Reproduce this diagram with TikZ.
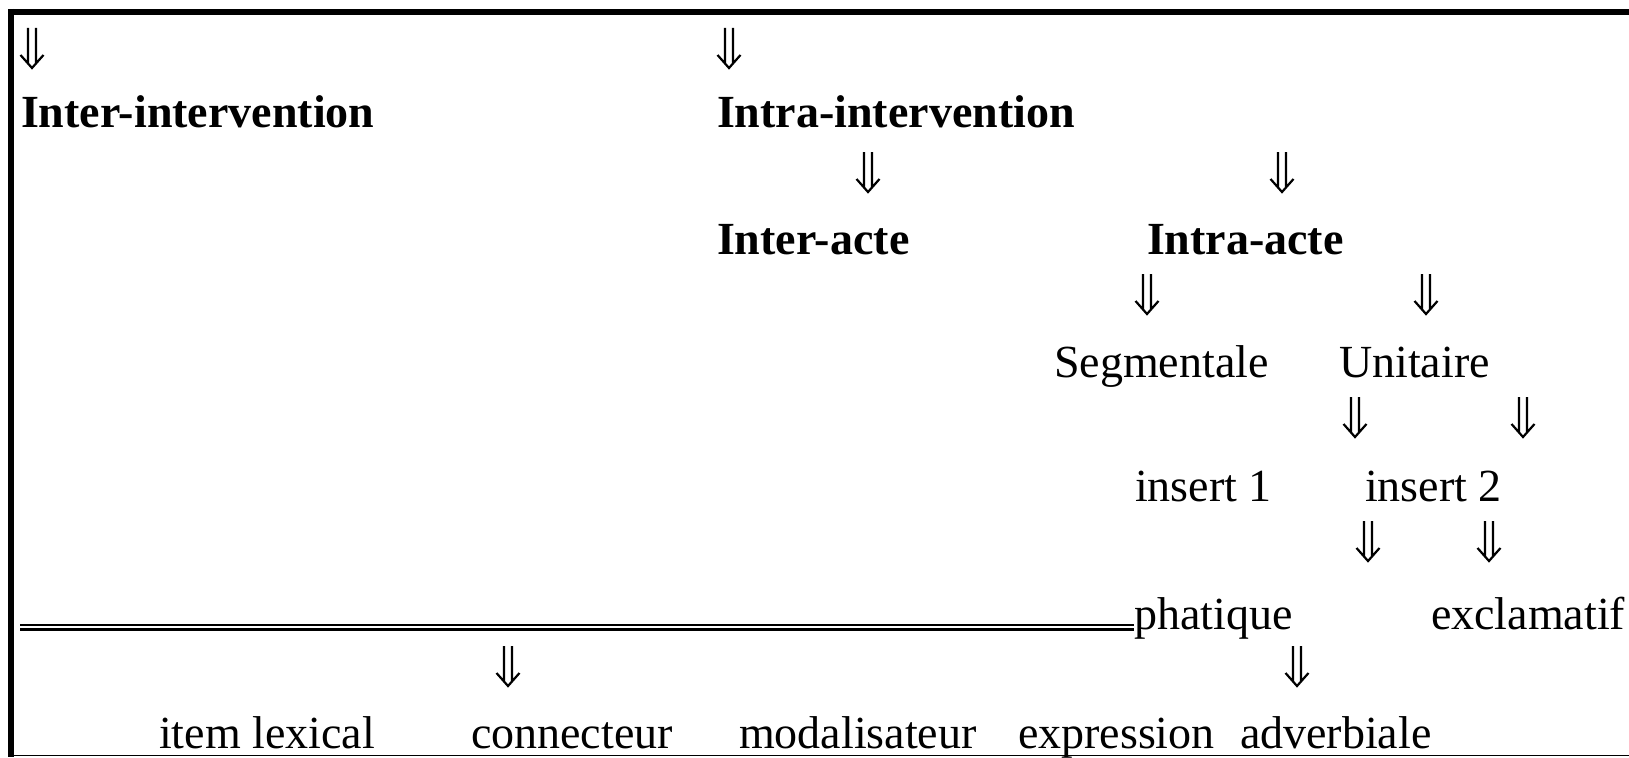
\documentclass[tikz,border=0pt]{standalone}
\usepackage{fontspec}
\setmainfont{Liberation Serif}
\begin{document}
\begin{tikzpicture}[x=1pt,y=-1pt,
  lbl/.style={anchor=base west,inner sep=0pt,outer sep=0pt,font=\fontsize{46}{55}\selectfont},
  blbl/.style={lbl,font=\fontsize{46}{55}\selectfont\bfseries},
  arrline/.style={line width=2.2pt,line cap=butt,line join=miter},
  dblline/.style={line width=2.6pt},
  dnarr/.pic={\draw[arrline] (-4,0) -- (-4,35.5) (4,0) -- (4,35.5) (-11.5,27) -- (0,40) -- (11.5,27);}
]
\useasboundingbox (0,0) rectangle (1629,757);
% frame
\draw[line width=6pt] (8,12) -- (1629,12);
\draw[line width=6pt] (11,9) -- (11,757);
\draw[line width=1.5pt] (8,755.5) -- (1629,755.5);

% texts
\node[blbl] (interint) at (21,128) {Inter-intervention};
\node[blbl] (intraint) at (717,128) {Intra-intervention};
\node[blbl] (interacte) at (717,254) {Inter-acte};
\node[blbl] (intraacte) at (1147,254) {Intra-acte};
\node[lbl] (segm) at (1054,377) {Segmentale};
\node[lbl] (unit) at (1339,377) {Unitaire};
\node[lbl] (ins1) at (1135,501) {insert 1};
\node[lbl] (ins2) at (1365,501) {insert 2};
\node[lbl] (phat) at (1134,629) {phatique};
\node[lbl] (excl) at (1431,629) {exclamatif};
\node[lbl] (item) at (159,748) {item lexical};
\node[lbl] (conn) at (471,748) {connecteur};
\node[lbl] (moda) at (739,748) {modalisateur};
\node[lbl] (expr) at (1018,748) {expression};
\node[lbl] (adv) at (1240,748) {adverbiale};

% arrows
\pic (a1) at (32,28) {dnarr};
\pic (a2) at (729,28) {dnarr};
\pic (a3) at (868,152) {dnarr};
\pic (a4) at (1282,152) {dnarr};
\pic (a5) at (1147,274) {dnarr};
\pic (a6) at (1426,274) {dnarr};
\pic (a7) at (1355,397) {dnarr};
\pic (a8) at (1523,397) {dnarr};
\pic (a9) at (1368,521) {dnarr};
\pic (a10) at (1489,521) {dnarr};
\pic (a11) at (508,646) {dnarr};
\pic (a12) at (1297,646) {dnarr};

% double line
\coordinate (dl1) at (20,624.8);
\coordinate (dl2) at (20,629.6);
\draw[dblline] (dl1) -- (dl1 -| phat.west);
\draw[dblline] (dl2) -- (dl2 -| phat.west);
\end{tikzpicture}
\end{document}
